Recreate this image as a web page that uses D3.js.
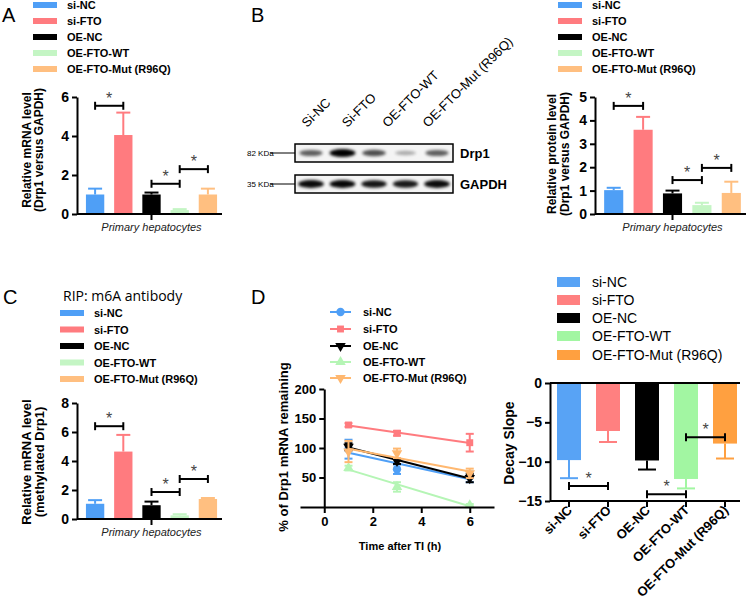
<!DOCTYPE html>
<html>
<head>
<meta charset="utf-8">
<script src="https://cdn.jsdelivr.net/npm/d3@7"></script>
<style>
body { margin: 0; background: #fff; }
svg text { font-family: "Liberation Sans", Arial, sans-serif; }
</style>
</head>
<body>
<svg id="fig" width="747" height="604"></svg>
<script>
// groups and values
var groups = ['si-NC', 'si-FTO', 'OE-NC', 'OE-FTO-WT', 'OE-FTO-Mut (R96Q)'];

var mrnaMean = [1.0, 4.05, 1.0, 0.2, 1.0];
var mrnaErr  = [0.3, 1.15, 0.1, 0.05, 0.3];
var mrnaSig  = [[0, 1, 5.55], [2, 3, 1.55], [3, 4, 2.3]];

var proteinMean = [1.02, 3.6, 0.88, 0.38, 0.9];
var proteinErr  = [0.1, 0.55, 0.12, 0.1, 0.48];
var proteinSig  = [[0, 1, 4.62], [2, 3, 1.45], [3, 4, 1.97]];

var m6aMean = [1.05, 4.65, 0.95, 0.25, 1.38];
var m6aErr  = [0.25, 1.15, 0.25, 0.08, 0.07];
var m6aSig  = [[0, 1, 6.4], [2, 3, 1.86], [3, 4, 2.76]];

var decayTimes = [1, 3, 6];
var decayMean = [
	[98, 64, 51],
	[139, 125, 109],
	[102, 78, 49],
	[66, 34, 3],
	[94, 91, 57]
];
var decayErr = [
	[16, 8, 9],
	[3, 4, 15],
	[6, 5, 7],
	[4, 8, 2],
	[18, 8, 8]
];

var slopeMean = [-9.8, -6.1, -9.85, -12.2, -7.7];
var slopeErr  = [2.3, 1.4, 1.15, 1.2, 1.9];
var slopeSig  = [[0, 1, -13.1], [2, 3, -14.15], [3, 4, -6.9]];

var blotLabels = ['Si-NC', 'Si-FTO', 'OE-FTO-WT', 'OE-FTO-Mut (R96Q)'];
var drp1Bands  = [0.55, 1.0, 0.62, 0.18, 0.55];
var gapdhBands = [0.95, 0.97, 0.9, 0.88, 0.95];

var colorsA     = ['#4f9ff6', '#ff7b7f', '#000000', '#c4f5c4', '#ffbf80'];
var colorsLine  = ['#4f9ff6', '#ff7b7f', '#000000', '#b5f5b5', '#ffb870'];
var colorsSlope = ['#58a3f5', '#ff8080', '#000000', '#a2f6a2', '#ffa040'];

var svg = d3.select('#fig');
var intFmt = d3.format('d');

function styleAxis(ax, size) {
	ax.selectAll('path, line').attr('stroke', '#000').attr('stroke-width', 2);
	ax.selectAll('text').attr('font-size', size || 14).attr('font-weight', 'bold').attr('fill', '#000');
}

function drawStar(g, x, y) {
	g.append('text').attr('x', x).attr('y', y)
		.attr('text-anchor', 'middle').attr('font-size', 16).attr('fill', '#444').text('*');
}

function drawBracket(g, x1, x2, y) {
	g.append('line').attr('x1', x1).attr('x2', x2).attr('y1', y).attr('y2', y);
	g.append('line').attr('x1', x1).attr('x2', x1).attr('y1', y - 4).attr('y2', y + 4);
	g.append('line').attr('x1', x2).attr('x2', x2).attr('y1', y - 4).attr('y2', y + 4);
	g.selectAll('line').attr('stroke', '#000').attr('stroke-width', 2);
	drawStar(g, (x1 + x2) / 2, y - 2);
}

function drawBarLegend(lx, ly, step, colors) {
	var leg = svg.append('g');
	groups.forEach(function(name, i) {
		leg.append('rect').attr('x', lx).attr('y', ly + i * step - 3)
			.attr('width', 24).attr('height', 6).attr('fill', colors[i]);
		leg.append('text').attr('x', lx + 34).attr('y', ly + i * step + 4)
			.attr('font-size', 11).attr('font-weight', 'bold').text(name);
	});
}

function drawBarPanel(p) {
	var g = svg.append('g');
	var x = d3.scaleBand().domain(groups).range([p.left + 4, p.right])
		.paddingInner(0.35).paddingOuter(0.175);
	var y = d3.scaleLinear().domain([0, p.max]).range([p.bottom, p.top]);
	var cx = function(i) { return x(groups[i]) + x.bandwidth() / 2; };

	g.selectAll('rect.bar').data(p.mean).enter().append('rect')
		.attr('class', 'bar')
		.attr('x', function(d, i) { return x(groups[i]); })
		.attr('width', x.bandwidth())
		.attr('y', function(d) { return y(d); })
		.attr('height', function(d) { return p.bottom - y(d); })
		.attr('fill', function(d, i) { return p.colors[i]; });

	var err = g.selectAll('g.err').data(p.mean).enter().append('g')
		.attr('stroke', function(d, i) { return p.colors[i]; })
		.attr('stroke-width', 2);
	err.append('line')
		.attr('x1', function(d, i) { return cx(i); }).attr('x2', function(d, i) { return cx(i); })
		.attr('y1', function(d) { return y(d); })
		.attr('y2', function(d, i) { return y(d + p.err[i]); });
	err.append('line')
		.attr('x1', function(d, i) { return cx(i) - 7; }).attr('x2', function(d, i) { return cx(i) + 7; })
		.attr('y1', function(d, i) { return y(d + p.err[i]); })
		.attr('y2', function(d, i) { return y(d + p.err[i]); });

	var yAx = g.append('g').attr('transform', 'translate(' + p.left + ',0)')
		.call(d3.axisLeft(y).tickValues(p.ticks).tickFormat(intFmt)
			.tickSize(5).tickSizeOuter(0).tickPadding(3));
	styleAxis(yAx);

	g.append('line').attr('x1', p.left).attr('x2', p.right)
		.attr('y1', p.bottom).attr('y2', p.bottom)
		.attr('stroke', '#000').attr('stroke-width', 2);
	g.append('line').attr('x1', cx(2)).attr('x2', cx(2))
		.attr('y1', p.bottom).attr('y2', p.bottom + 6)
		.attr('stroke', '#000').attr('stroke-width', 2);
	g.append('text').attr('x', cx(2)).attr('y', p.bottom + 17)
		.attr('text-anchor', 'middle').attr('font-size', 11).attr('font-style', 'italic')
		.attr('fill', '#222').text('Primary hepatocytes');

	p.sig.forEach(function(s) {
		drawBracket(g.append('g'), cx(s[0]), cx(s[1]), y(s[2]));
	});

	p.ylabel.forEach(function(t, i) {
		g.append('text')
			.attr('transform', 'translate(' + p.labelX[i] + ',' + p.labelY + ') rotate(-90)')
			.attr('text-anchor', 'middle').attr('font-size', p.labelSize)
			.attr('font-weight', 'bold').text(t);
	});
}

// panel letters
[['A', 2, 22], ['B', 251, 22], ['C', 3, 304], ['D', 251, 304]].forEach(function(l) {
	svg.append('text').attr('x', l[1]).attr('y', l[2]).attr('font-size', 20).text(l[0]);
});
svg.append('text').attr('x', 63).attr('y', 301).attr('font-size', 14)
	.style('font-family', '"Open Sans", sans-serif').text('RIP: m6A antibody');

// A
drawBarLegend(33, 5, 16, colorsA);
drawBarPanel({ left: 77, right: 222, top: 97, bottom: 214, max: 6, ticks: [0, 2, 4, 6],
	mean: mrnaMean, err: mrnaErr, sig: mrnaSig, colors: colorsA,
	ylabel: ['Relative mRNA level', '(Drp1 versus GAPDH)'], labelX: [31, 43], labelY: 150, labelSize: 12 });

// B bars
drawBarLegend(558, 5, 16, colorsA);
drawBarPanel({ left: 595, right: 746, top: 97, bottom: 214, max: 5, ticks: [0, 1, 2, 3, 4, 5],
	mean: proteinMean, err: proteinErr, sig: proteinSig, colors: colorsA,
	ylabel: ['Relative protein level', '(Drp1 versus GAPDH)'], labelX: [556, 569], labelY: 154, labelSize: 12 });

// C
drawBarLegend(60, 313, 16.5, colorsA);
drawBarPanel({ left: 77, right: 222, top: 403, bottom: 519, max: 8, ticks: [0, 2, 4, 6, 8],
	mean: m6aMean, err: m6aErr, sig: m6aSig, colors: colorsA,
	ylabel: ['Relative mRNA level', '(methylated Drp1)'], labelX: [31, 44], labelY: 462, labelSize: 13 });

// B blot
function drawBlot() {
	var g = svg.append('g');
	var defs = svg.append('defs');
	defs.append('filter').attr('id', 'blur').attr('x', '-50%').attr('y', '-100%')
		.attr('width', '200%').attr('height', '300%')
		.append('feGaussianBlur').attr('stdDeviation', 1.6);

	var lane = d3.scalePoint().domain(d3.range(drp1Bands.length)).range([311, 437]);
	var labelX = d3.scalePoint().domain(blotLabels).range([307, 428]);

	blotLabels.forEach(function(t) {
		g.append('text')
			.attr('transform', 'translate(' + labelX(t) + ',128) rotate(-45)')
			.attr('font-size', 13).text(t);
	});

	var rows = [
		{ y: 144, bands: drp1Bands, name: 'Drp1', kda: '82 KDa' },
		{ y: 175, bands: gapdhBands, name: 'GAPDH', kda: '35 KDa' }
	];
	rows.forEach(function(r) {
		g.append('rect').attr('x', 295).attr('y', r.y).attr('width', 158).attr('height', 18)
			.attr('fill', '#f4f4f4').attr('stroke', '#000').attr('stroke-width', 1.5);
		g.selectAll(null).data(r.bands).enter().append('ellipse')
			.attr('cx', function(d, i) { return lane(i); })
			.attr('cy', r.y + 9)
			.attr('rx', function(d) { return 10 + 3 * d; })
			.attr('ry', function(d) { return 1.8 + 2.2 * d; })
			.attr('fill', '#000')
			.attr('opacity', function(d) { return 0.15 + 0.85 * d; })
			.attr('filter', 'url(#blur)');
		g.append('line').attr('x1', 270).attr('x2', 295).attr('y1', r.y + 9).attr('y2', r.y + 9)
			.attr('stroke', '#000').attr('stroke-width', 1);
		g.append('text').attr('x', 247).attr('y', r.y + 12).attr('font-size', 8).text(r.kda);
		g.append('text').attr('x', 460).attr('y', r.y + 14).attr('font-size', 13)
			.attr('font-weight', 'bold').text(r.name);
	});
}
drawBlot();

// D line chart
function drawDecayLines() {
	var g = svg.append('g');
	var x = d3.scaleLinear().domain([-1, 7]).range([300, 494]);
	var y = d3.scaleLinear().domain([0, 200]).range([507, 389]);
	var symbols = [d3.symbolCircle, d3.symbolSquare, d3.symbolTriangle, d3.symbolTriangle, d3.symbolTriangle];
	var flip = [0, 0, 180, 0, 180];
	var sym = function(i) { return d3.symbol().type(symbols[i]).size(i === 0 ? 55 : 48)(); };

	decayMean.forEach(function(vals, i) {
		var s = g.append('g');
		// least-squares line through the points, as in the figure
		var tm = d3.mean(decayTimes), vm = d3.mean(vals);
		var num = d3.sum(decayTimes, function(t, k) { return (t - tm) * (vals[k] - vm); });
		var den = d3.sum(decayTimes, function(t) { return (t - tm) * (t - tm); });
		var b = num / den, a = vm - b * tm;
		var t0 = decayTimes[0], t1 = decayTimes[decayTimes.length - 1];
		s.append('line').attr('x1', x(t0)).attr('x2', x(t1))
			.attr('y1', y(a + b * t0)).attr('y2', y(a + b * t1))
			.attr('stroke', colorsLine[i]).attr('stroke-width', 2);
		decayTimes.forEach(function(t, k) {
			var v = vals[k], e = decayErr[i][k];
			s.append('line').attr('x1', x(t)).attr('x2', x(t)).attr('y1', y(v - e)).attr('y2', y(v + e));
			s.append('line').attr('x1', x(t) - 4).attr('x2', x(t) + 4).attr('y1', y(v - e)).attr('y2', y(v - e));
			s.append('line').attr('x1', x(t) - 4).attr('x2', x(t) + 4).attr('y1', y(v + e)).attr('y2', y(v + e));
			s.append('path').attr('d', sym(i))
				.attr('transform', 'translate(' + x(t) + ',' + y(v) + ') rotate(' + flip[i] + ')')
				.attr('fill', colorsLine[i]);
		});
		s.selectAll('line').attr('stroke', colorsLine[i]).attr('stroke-width', 2);
	});

	var yAx = g.append('g').attr('transform', 'translate(' + x(0) + ',0)')
		.call(d3.axisLeft(y).tickValues([50, 100, 150, 200]).tickFormat(intFmt)
			.tickSize(5).tickSizeOuter(0).tickPadding(3));
	styleAxis(yAx, 13);
	var xAx = g.append('g').attr('transform', 'translate(0,' + y(0) + ')')
		.call(d3.axisBottom(x).tickValues([0, 2, 4, 6]).tickFormat(intFmt)
			.tickSize(6).tickSizeOuter(0).tickPadding(4));
	styleAxis(xAx, 13);

	g.append('text').attr('x', 400).attr('y', 550).attr('text-anchor', 'middle')
		.attr('font-size', 11).attr('font-weight', 'bold').text('Time after TI (h)');
	g.append('text').attr('transform', 'translate(288,447) rotate(-90)')
		.attr('text-anchor', 'middle').attr('font-size', 13).attr('font-weight', 'bold')
		.text('% of Drp1 mRNA remaining');

	var ly = [312, 329, 346, 362, 378];
	groups.forEach(function(name, i) {
		g.append('line').attr('x1', 330).attr('x2', 351).attr('y1', ly[i]).attr('y2', ly[i])
			.attr('stroke', colorsLine[i]).attr('stroke-width', 2);
		g.append('path').attr('d', sym(i))
			.attr('transform', 'translate(340.5,' + ly[i] + ') rotate(' + flip[i] + ')')
			.attr('fill', colorsLine[i]);
		g.append('text').attr('x', 363).attr('y', ly[i] + 4)
			.attr('font-size', 11).attr('font-weight', 'bold').text(name);
	});
}
drawDecayLines();

// D decay slope bars
function drawSlopes() {
	var g = svg.append('g');
	var x = d3.scaleBand().domain(groups).range([549.5, 744.5]).paddingInner(0.385).paddingOuter(0.1925);
	var y = d3.scaleLinear().domain([-15, 0]).range([501, 383]);
	var cx = function(i) { return x(groups[i]) + x.bandwidth() / 2; };

	g.selectAll('rect').data(slopeMean).enter().append('rect')
		.attr('x', function(d, i) { return x(groups[i]); })
		.attr('width', x.bandwidth())
		.attr('y', y(0))
		.attr('height', function(d) { return y(d) - y(0); })
		.attr('fill', function(d, i) { return colorsSlope[i]; });

	slopeMean.forEach(function(d, i) {
		var e = g.append('g').attr('stroke', colorsSlope[i]).attr('stroke-width', 2);
		e.append('line').attr('x1', cx(i)).attr('x2', cx(i)).attr('y1', y(d)).attr('y2', y(d - slopeErr[i]));
		e.append('line').attr('x1', cx(i) - 9).attr('x2', cx(i) + 9)
			.attr('y1', y(d - slopeErr[i])).attr('y2', y(d - slopeErr[i]));
	});

	var yAx = g.append('g').attr('transform', 'translate(550,0)')
		.call(d3.axisLeft(y).tickValues([0, -5, -10, -15]).tickFormat(intFmt)
			.tickSize(5).tickSizeOuter(0).tickPadding(3));
	styleAxis(yAx, 14);
	g.append('line').attr('x1', 550).attr('x2', 740).attr('y1', y(0)).attr('y2', y(0))
		.attr('stroke', '#000').attr('stroke-width', 2);
	g.append('line').attr('x1', 550).attr('x2', 740).attr('y1', y(-15)).attr('y2', y(-15))
		.attr('stroke', '#000').attr('stroke-width', 2);

	groups.forEach(function(name, i) {
		g.append('line').attr('x1', cx(i)).attr('x2', cx(i)).attr('y1', y(-15)).attr('y2', y(-15) + 6)
			.attr('stroke', '#000').attr('stroke-width', 2);
		g.append('text')
			.attr('transform', 'translate(' + (cx(i) + 4) + ',' + (y(-15) + 10) + ') rotate(-45)')
			.attr('text-anchor', 'end').attr('font-size', 13).attr('font-weight', 'bold').text(name);
	});

	slopeSig.forEach(function(s) {
		drawBracket(g.append('g'), cx(s[0]), cx(s[1]), y(s[2]));
	});

	g.append('text').attr('transform', 'translate(514,443) rotate(-90)')
		.attr('text-anchor', 'middle').attr('font-size', 14).attr('font-weight', 'bold')
		.text('Decay Slope');

	var ly = [282, 300, 318, 336, 355];
	groups.forEach(function(name, i) {
		g.append('rect').attr('x', 557).attr('y', ly[i] - 5).attr('width', 23).attr('height', 10)
			.attr('fill', colorsSlope[i]);
		g.append('text').attr('x', 592).attr('y', ly[i] + 5).attr('font-size', 14).text(name);
	});
}
drawSlopes();
</script>
</body>
</html>
